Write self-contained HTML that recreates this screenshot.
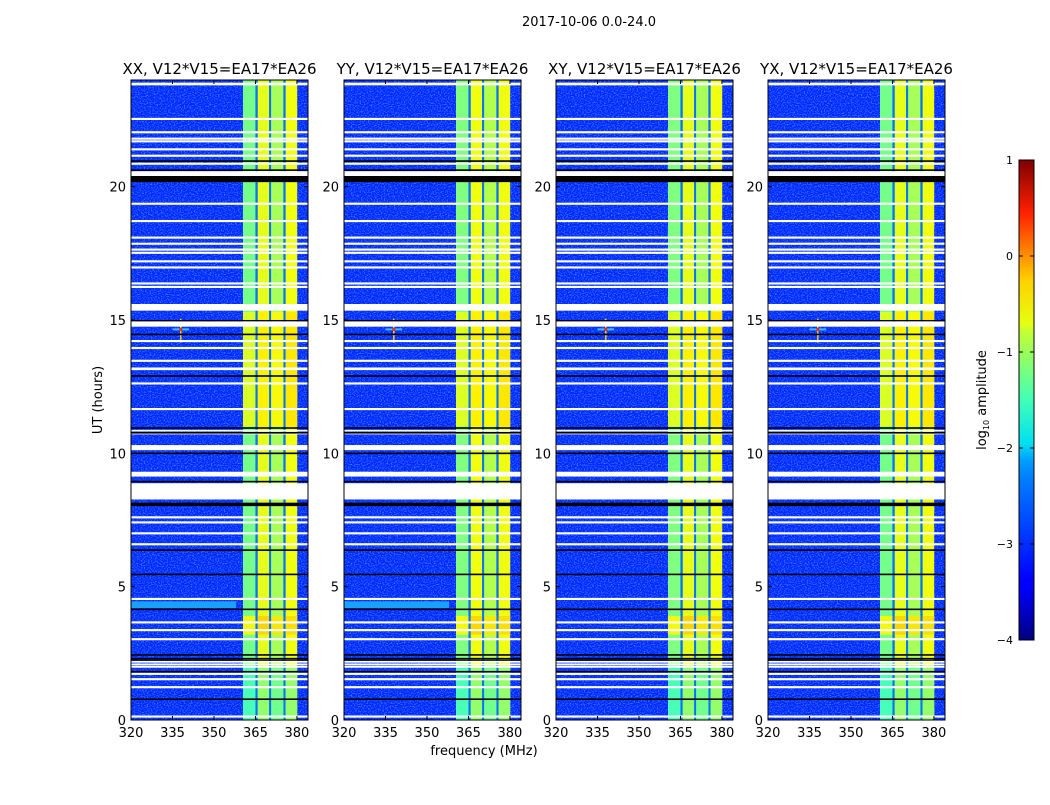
<!DOCTYPE html>
<html><head><meta charset="utf-8">
<style>
html,body{margin:0;padding:0;background:#fff;}
body{width:1050px;height:800px;overflow:hidden;font-family:"Liberation Sans","DejaVu Sans",sans-serif;}
svg text{font-family:"DejaVu Sans","Liberation Sans",sans-serif;fill:#000;}
</style></head>
<body>
<svg id="chart" width="1050" height="800" viewBox="0 0 1050 800" xmlns="http://www.w3.org/2000/svg">
<defs>
<filter id="noise" x="0" y="0" width="100%" height="100%">
<feTurbulence type="fractalNoise" baseFrequency="0.7 0.9" numOctaves="1" seed="3"/>
<feColorMatrix type="matrix" values="0 0 0 0 0.1  0 0 0 0 0.45  0 0 0 0 1  0 0 0 2.6 -1.15"/>
</filter>
<linearGradient id="jet" x1="0" y1="1" x2="0" y2="0">
<stop offset="0" stop-color="#00007f"/>
<stop offset="0.11" stop-color="#0000ff"/>
<stop offset="0.125" stop-color="#0000ff"/>
<stop offset="0.34" stop-color="#0080ff"/>
<stop offset="0.375" stop-color="#00a0ff"/>
<stop offset="0.41" stop-color="#00e0f0"/>
<stop offset="0.5" stop-color="#40ffb7"/>
<stop offset="0.64" stop-color="#c0ff37"/>
<stop offset="0.66" stop-color="#e6ff10"/>
<stop offset="0.75" stop-color="#ffd000"/>
<stop offset="0.89" stop-color="#ff2000"/>
<stop offset="1" stop-color="#7f0000"/>
</linearGradient>
</defs>
<text x="589" y="26" font-size="13" text-anchor="middle">2017-10-06 0.0-24.0</text>
<g id="panels"></g>
<text transform="translate(102,400) rotate(-90)" font-size="13" text-anchor="middle">UT (hours)</text>
<text x="484" y="755" font-size="13" text-anchor="middle">frequency (MHz)</text>
<g>
<rect x="1019" y="160" width="15" height="480" fill="url(#jet)" stroke="#000" stroke-width="1"/>
<g id="cbticks"></g>
<text transform="translate(986,400) rotate(-90)" font-size="13" text-anchor="middle">log<tspan font-size="8" dy="3">10</tspan><tspan dy="-3"> amplitude</tspan></text>
</g>
</svg>
<script>
const NS="http://www.w3.org/2000/svg";
// ---- data ----
const panelTitles=["XX, V12*V15=EA17*EA26","YY, V12*V15=EA17*EA26","XY, V12*V15=EA17*EA26","YX, V12*V15=EA17*EA26"];
const freqTicks=[320,335,350,365,380];
const utTicks=[0,5,10,15,20];
const cbTicks=[1,0,-1,-2,-3,-4];
const bgLevel=-3.2;
// sub-bands [MHz start, MHz end]
const subbands=[[360.5,365.0],[365.8,370.0],[370.6,375.1],[375.9,380.1]];
// separators between sub-bands (MHz)
const separators=[365.4,370.3,375.5];
const sepLevel=-2.8;
// log10 amplitude per sub-band (quiet hours), for each panel
const bandLevelQuiet=[[-1.55,-1.0,-1.3,-0.95],[-1.5,-0.95,-1.25,-0.95],[-1.5,-1.0,-1.3,-0.95],[-1.55,-1.0,-1.3,-0.95]];
// active periods (UT start,end) with levels per sub-band
const activeUT=[[11.0,15.3],[3.2,3.9],[0,2.0]];
const bandLevelActive=[[-1.0,-0.8,-0.85,-0.75],[-0.85,-0.65,-0.75,-0.7],[-1.8,-1.45,-1.6,-1.45]];
// flagged (white) rows [UT start, UT end]
const whiteRows=[[23.8,23.9],[22.5,22.58],[22.0,22.08],[21.76,21.84],[21.66,21.74],[21.36,21.44],[21.12,21.2],[20.82,20.9],[20.4,20.58],[19.32,19.4],[18.67,18.75],[18.05,18.13],[17.82,17.9],[17.6,17.68],[17.48,17.56],[17.16,17.24],[16.93,17.01],[16.33,16.41],[16.2,16.28],[15.35,15.6],[14.75,14.95],[14.17,14.25],[13.91,13.99],[13.43,13.51],[13.12,13.22],[12.58,12.66],[11.62,11.7],[10.82,10.88],[10.71,10.79],[10.12,10.31],[9.13,9.31],[8.27,8.88],[7.56,7.64],[7.37,7.45],[6.96,7.04],[6.55,6.63],[4.5,4.58],[3.62,3.7],[3.33,3.41],[2.99,3.07],[2.15,2.22],[2.05,2.12],[1.96,2.03],[1.69,1.77],[1.49,1.57],[1.19,1.27],[0.09,0.17]];
// black (zero) rows [UT start, UT end]
const blackRows=[[20.93,20.99],[20.59,20.65],[20.17,20.4],[14.95,15.0],[14.43,14.49],[12.87,12.93],[10.92,10.98],[10.74,10.8],[9.97,10.03],[8.91,8.97],[8.02,8.15],[6.34,6.4],[5.43,5.49],[4.12,4.18],[2.41,2.47],[2.27,2.33],[2.22,2.26],[1.78,1.84],[0.75,0.81]];
// cyan enhanced row (UT start,end, MHz end) for XX, YY only
const cyanRow=[4.2,4.45,358];
const cyanPanels=[0,1];
// RFI spike [MHz, UT]
const rfiSpike=[338,14.65];

// ---- layout ----
const panelLeft=[131,344,556,768], PW=177, PT=80, PH=640;
const fMin=320,fMax=384,uMin=0,uMax=24;
function jet(v){
  let t=Math.max(0,Math.min(1,(v+4)/5));
  const r=Math.max(0,Math.min(1,1.5-Math.abs(4*t-3))),g=Math.max(0,Math.min(1,1.5-Math.abs(4*t-2))),b=Math.max(0,Math.min(1,1.5-Math.abs(4*t-1)));
  return `rgb(${Math.round(r*255)},${Math.round(g*255)},${Math.round(b*255)})`;
}
function mk(tag,attrs,parent){const e=document.createElementNS(NS,tag);for(const k in attrs)e.setAttribute(k,attrs[k]);parent.appendChild(e);return e;}
const root=document.getElementById('panels');
panelTitles.forEach((title,p)=>{
  const L=panelLeft[p];
  const X=f=>L+(f-fMin)/(fMax-fMin)*PW;
  const Y=u=>PT+PH-(u-uMin)/(uMax-uMin)*PH;
  const g=mk('g',{},root);
  
  
  const t=mk('text',{x:L+PW/2,y:74,'font-size':15,'text-anchor':'middle'},g);
  
  
  t.textContent=title;
  const clipId='clip'+p;
  const cp=mk('clipPath',{id:clipId},g);mk('rect',{x:L,y:PT,width:PW,height:PH},cp);
  const im=mk('g',{'clip-path':`url(#${clipId})`},g);
  const bg=mk('rect',{x:L,y:PT,width:PW,height:PH,fill:jet(bgLevel)},im);
  
  
  mk('rect',{x:L,y:PT,width:PW,height:PH,filter:'url(#noise)',opacity:0.8},im);
  if(cyanPanels.includes(p)){
    const c=mk('rect',{x:X(fMin),y:Y(cyanRow[1]),width:X(cyanRow[2])-X(fMin),height:Y(cyanRow[0])-Y(cyanRow[1]),fill:'#1aa0ff'},im);
    
    
  }
  subbands.forEach((sb,i)=>{
    const r=mk('rect',{x:X(sb[0]),y:PT,width:X(sb[1])-X(sb[0]),height:PH,fill:jet(bandLevelQuiet[p][i])},im);
    
    
    activeUT.forEach((a,k)=>{
      const ar=mk('rect',{x:X(sb[0]),y:Y(a[1]),width:X(sb[1])-X(sb[0]),height:Y(a[0])-Y(a[1]),fill:jet(bandLevelActive[k][i]),opacity:0.9},im);
      
      
    });
  });
  separators.forEach(f=>{
    const s=mk('rect',{x:X(f)-1,y:PT,width:2,height:PH,fill:jet(sepLevel)},im);
    
    
  });
  const sp=mk('g',{},im);
  
  
  mk('line',{x1:X(rfiSpike[0]),x2:X(rfiSpike[0]),y1:Y(rfiSpike[1]+0.4),y2:Y(rfiSpike[1]-0.5),stroke:'#ffcc00','stroke-width':1.5},sp);
  mk('line',{x1:X(rfiSpike[0]-3),x2:X(rfiSpike[0]+3),y1:Y(rfiSpike[1]),y2:Y(rfiSpike[1]),stroke:'#40c0ff','stroke-width':2},sp);
  mk('circle',{cx:X(rfiSpike[0]),cy:Y(rfiSpike[1]),r:1.5,fill:'#ff2000'},sp);
  whiteRows.forEach(w=>{
    const r=mk('rect',{x:L,y:Y(w[1]),width:PW,height:Math.max(1,Y(w[0])-Y(w[1])),fill:'#fff'},im);
    
    
  });
  blackRows.forEach(w=>{
    const r=mk('rect',{x:L,y:Y(w[1]),width:PW,height:Math.max(1,Y(w[0])-Y(w[1])),fill:'#000'},im);
    
    
  });
  const fr=mk('rect',{x:L,y:PT,width:PW,height:PH,fill:'none',stroke:'#000','stroke-width':1},g);
  
  
  freqTicks.forEach(f=>{
    mk('line',{x1:X(f),x2:X(f),y1:PT+PH,y2:PT+PH-4,stroke:'#000'},g);
    mk('line',{x1:X(f),x2:X(f),y1:PT,y2:PT+4,stroke:'#000'},g);
    const tl=mk('text',{x:X(f),y:PT+PH+17,'font-size':13,'text-anchor':'middle'},g);
    
    
    tl.textContent=f;
  });
  utTicks.forEach(u=>{
    mk('line',{x1:L,x2:L+4,y1:Y(u),y2:Y(u),stroke:'#000'},g);
    mk('line',{x1:L+PW,x2:L+PW-4,y1:Y(u),y2:Y(u),stroke:'#000'},g);
    const tl=mk('text',{x:L-5,y:Y(u)+5,'font-size':13,'text-anchor':'end'},g);
    
    
    tl.textContent=u;
  });
});
const cb=document.getElementById('cbticks');
cbTicks.forEach(v=>{
  const y=160+(1-v)/5*480;
  mk('line',{x1:1019,x2:1023,y1:y,y2:y,stroke:'#000'},cb);
  mk('line',{x1:1034,x2:1030,y1:y,y2:y,stroke:'#000'},cb);
  const tl=mk('text',{x:1013,y:y+4,'font-size':11,'text-anchor':'end'},cb);
  
  
  tl.textContent=v<0?'\u2212'+(-v):String(v);
});
</script>
</body></html>
